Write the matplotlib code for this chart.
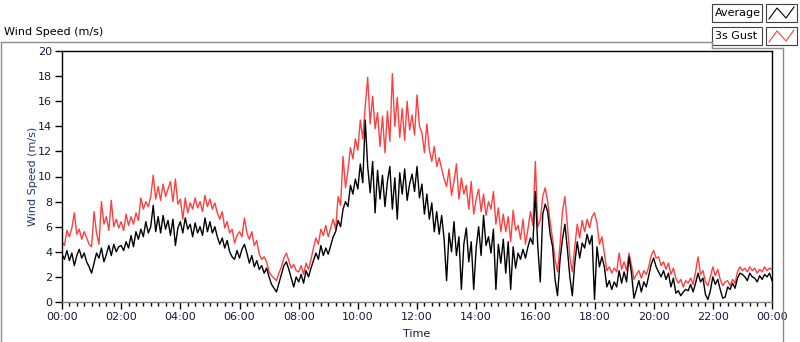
import numpy as np
import matplotlib
matplotlib.use("Agg")
import matplotlib.pyplot as plt
from matplotlib.lines import Line2D
from matplotlib.patches import Rectangle

# --- Datos (muestras cada 5 minutos) ---
# una fila = una hora (12 muestras)
gust = [
    4.8, 4.5, 5.7, 5.2, 5.9, 7.1, 5.4, 5.8, 5.0, 5.6, 5.1, 4.6,
    4.4, 7.2, 5.5, 4.6, 8.0, 6.2, 6.8, 5.7, 8.1, 6.0, 6.6, 5.9,
    6.4, 5.7, 7.0, 6.1, 6.8, 6.2, 7.1, 6.5, 8.3, 7.4, 8.0, 7.6,
    8.4, 10.1, 8.2, 9.2, 8.1, 9.4, 8.4, 9.0, 9.6, 8.0, 9.8, 7.8,
    8.2, 6.6, 8.3, 7.1, 7.9, 7.4, 8.3, 7.5, 8.0, 7.2, 8.5, 7.6,
    8.2, 7.4, 7.9, 7.1, 6.6, 7.2, 5.9, 6.4, 5.5, 5.8, 4.7, 5.3,
    5.6, 5.2, 6.7, 5.5, 5.0, 5.6, 4.5, 4.9, 3.8, 3.4, 3.6, 3.2,
    2.4, 2.1, 1.9, 1.7, 2.3, 2.8, 3.5, 3.9, 3.3, 2.7, 3.0, 2.5,
    2.4, 2.9, 2.2, 3.1, 2.6, 3.4, 4.3, 5.1, 4.6, 5.8, 5.3, 6.1,
    5.2, 5.9, 6.6, 5.8, 8.4, 7.7, 11.6, 9.1, 10.5, 12.3, 11.4, 13.0,
    12.1, 14.5, 13.0, 15.6, 17.9, 14.2, 16.4, 13.8, 15.1, 12.4, 14.8, 11.9,
    15.2, 12.8, 18.2, 14.0, 16.3, 13.1, 15.4, 12.9, 16.0, 13.7, 14.9, 13.3,
    16.5, 14.0, 13.5, 11.9, 14.2, 12.1, 11.2, 12.4, 10.8, 11.5, 10.6, 9.8,
    9.2, 10.6, 8.5, 9.6, 11.0, 8.2, 9.9, 8.6, 9.3, 7.4, 9.6, 7.0,
    8.2, 9.0, 7.2, 8.6, 6.9, 8.0, 7.4, 8.8, 6.2, 7.5, 5.6, 7.0,
    5.6, 6.8, 4.8, 7.3, 5.7, 6.1, 5.0, 6.6, 4.6, 5.8, 7.2, 6.1,
    11.2, 6.0, 6.5, 8.4, 9.1, 8.0, 6.4, 5.0, 3.4, 2.4, 4.5, 7.2,
    8.4, 6.1, 3.6, 2.4, 4.4, 6.2, 5.1, 6.5, 5.6, 6.6, 5.9, 6.8,
    7.1, 6.3, 4.6, 5.2, 3.9, 2.5, 2.8, 2.3, 2.7, 2.4, 3.9, 2.6,
    3.2, 2.5, 3.9, 2.9, 1.8, 2.2, 2.5, 1.9, 2.5, 2.2, 2.8, 3.7,
    4.1, 3.5, 3.6, 2.9, 3.2, 2.6, 3.1, 2.2, 2.7, 1.9, 1.5, 1.8,
    1.2, 1.7, 1.5, 1.9, 1.4, 2.4, 3.6, 2.2, 2.5, 1.6, 1.3, 2.0,
    2.8, 2.1, 2.6, 1.8, 1.3, 1.6, 1.7, 1.3, 1.8, 1.5, 2.4, 2.8,
    2.5, 2.7, 2.4, 2.8, 2.5, 2.7, 2.3, 2.6, 2.4, 2.8, 2.5, 2.7,
    2.6,
]
average = [
    3.8, 3.4, 4.1, 3.3, 3.9, 2.9, 3.7, 4.2, 3.5, 3.9, 3.2, 2.8,
    2.3, 3.1, 3.9, 3.5, 4.3, 3.2, 3.8, 4.5, 3.7, 4.6, 4.0, 4.4,
    4.5, 4.1, 4.8, 4.3, 5.3, 4.4, 5.6, 5.0, 5.8, 5.2, 6.4, 5.5,
    6.0, 7.7, 5.6, 6.8, 5.5, 6.9, 5.8, 6.5, 5.3, 6.6, 4.5, 5.9,
    6.4, 5.5, 6.7, 5.8, 6.2, 5.2, 6.3, 5.5, 6.0, 5.3, 6.7, 5.6,
    6.4, 5.5, 6.0, 5.2, 4.6, 5.1, 4.3, 4.9, 4.0, 3.6, 3.4, 4.1,
    3.5, 4.2, 4.6, 3.9, 3.1, 3.7, 2.8, 3.3, 2.6, 2.9, 2.3, 2.7,
    2.0, 1.4, 1.1, 0.8, 1.5, 2.2, 2.9, 3.2, 2.6, 1.9, 1.2, 2.0,
    1.6, 2.2, 1.5, 2.5, 2.0, 2.7, 3.3, 3.9, 3.4, 4.5, 3.7, 4.3,
    3.8, 4.5, 5.2, 5.6, 6.5, 6.0, 7.4, 8.0, 7.6, 9.3, 8.6, 9.8,
    9.0, 11.0, 9.5, 14.5, 10.8, 8.7, 11.2, 7.1, 10.5, 8.2, 10.1, 7.6,
    9.6, 10.8, 7.4, 9.9, 6.6, 10.3, 8.6, 10.6, 8.1, 9.4, 10.2, 8.8,
    10.8, 8.3, 9.4, 7.0, 8.6, 6.6, 7.9, 5.6, 7.2, 5.4, 6.9, 5.0,
    1.7, 5.5, 4.0, 6.4, 3.7, 5.2, 1.0, 4.6, 5.9, 3.2, 4.8, 1.0,
    4.3, 6.0, 3.7, 6.9, 4.5, 5.2, 3.9, 5.8, 1.0, 4.6, 3.1, 5.0,
    2.3, 4.8, 1.0, 4.4, 2.7, 3.9, 3.4, 4.2, 3.5, 4.4, 5.1, 4.6,
    8.8, 4.4, 1.6, 7.0, 7.8, 7.2, 5.4, 4.4, 1.8, 0.5, 3.3, 5.0,
    6.2, 4.2, 2.0, 0.5, 3.1, 4.8, 3.5, 4.7, 4.3, 5.4, 4.6, 5.3,
    0.2, 4.4, 2.8, 3.6, 2.8, 1.2, 1.7, 1.0, 1.6, 1.2, 2.5, 1.5,
    2.4, 1.6, 3.6, 2.3, 0.3, 1.0, 1.7, 0.8, 1.6, 1.2, 2.1, 3.0,
    3.5, 2.8, 2.4, 2.0, 2.5, 1.8, 2.3, 1.2, 1.9, 0.7, 0.9, 0.5,
    0.8, 1.0, 0.9, 1.4, 0.8, 1.5, 2.3, 1.6, 1.9, 0.6, 0.2, 0.9,
    2.0, 1.4, 1.8, 1.0, 0.3, 0.4, 1.2, 1.0, 1.5, 1.1, 1.9, 2.3,
    2.2, 2.0, 1.7, 2.3, 2.0, 1.9, 1.6, 2.1, 1.8, 2.2, 2.0, 2.3,
    1.7,
]
horas = np.arange(len(average)) * 5 / 60.0
etiquetas_x = ["00:00", "02:00", "04:00", "06:00", "08:00", "10:00", "12:00",
               "14:00", "16:00", "18:00", "20:00", "22:00", "00:00"]

W, H = 800, 342
def fx(x): return x / W
def fy(y): return 1 - y / H

color_texto = "#141c38"
color_rojo = "#ff3f3f"

fig = plt.figure(figsize=(W / 100, H / 100), dpi=100)
ax = fig.add_axes([fx(62), fy(302), 710 / W, 251 / H])

ax.plot(horas, gust, color=color_rojo, lw=1.0)
ax.plot(horas, average, color="black", lw=1.0)

ax.set_xlim(0, 24)
ax.set_ylim(0, 20)
ax.set_xticks(range(0, 25, 2))
ax.set_xticklabels(etiquetas_x)
ax.set_xticks(np.arange(0, 24.01, 0.25), minor=True)
ax.set_yticks(range(0, 21, 2))
ax.tick_params(axis="both", which="major", direction="out", length=5, width=1,
               labelsize=8, labelcolor=color_texto, pad=2)
ax.tick_params(axis="x", which="minor", direction="out", length=3, width=1)
ax.set_xlabel("Time", fontsize=8, color=color_texto, labelpad=5)
ax.set_ylabel("Wind Speed (m/s)", fontsize=8, color="#1f3a6e", labelpad=0)
for lado in ["top", "right", "left"]:
    ax.spines[lado].set_color("black")
ax.spines["bottom"].set_color("#808080")
for s in ax.spines.values():
    s.set_linewidth(1)

# --- Marco del panel y titulo ---
gris = "#8c8c8c"
def linea(xs, ys, c=gris, lw=1):
    fig.add_artist(Line2D([fx(v) for v in xs], [fy(v) for v in ys],
                          transform=fig.transFigure, color=c, lw=lw))

linea([1, 712], [42, 42])
linea([712, 712], [42, 48])
linea([712, 783], [48, 48])
linea([1, 1], [42, 342])
linea([783, 783], [48, 342])
fig.text(fx(4), fy(32), "Wind Speed (m/s)", fontsize=8, color="black", va="center")

# --- Leyenda ---
series = [("Average", "black", 4), ("3s Gust", color_rojo, 27)]
for nombre, col, y0 in series:
    fig.add_artist(Rectangle((fx(712), fy(y0 + 18)), 50 / W, 18 / H,
                             transform=fig.transFigure, facecolor="white",
                             edgecolor="#404040", lw=0.8))
    fig.text(fx(715), fy(y0 + 9), nombre, fontsize=8, color="black", va="center")
    fig.add_artist(Rectangle((fx(766), fy(y0 + 18)), 31 / W, 18 / H,
                             transform=fig.transFigure, facecolor="white",
                             edgecolor="#404040", lw=0.8))
    linea([769, 777, 786, 794], [y0 + 15, y0 + 4, y0 + 14, y0 + 3], c=col, lw=0.8)

plt.savefig("out.png", dpi=100)
